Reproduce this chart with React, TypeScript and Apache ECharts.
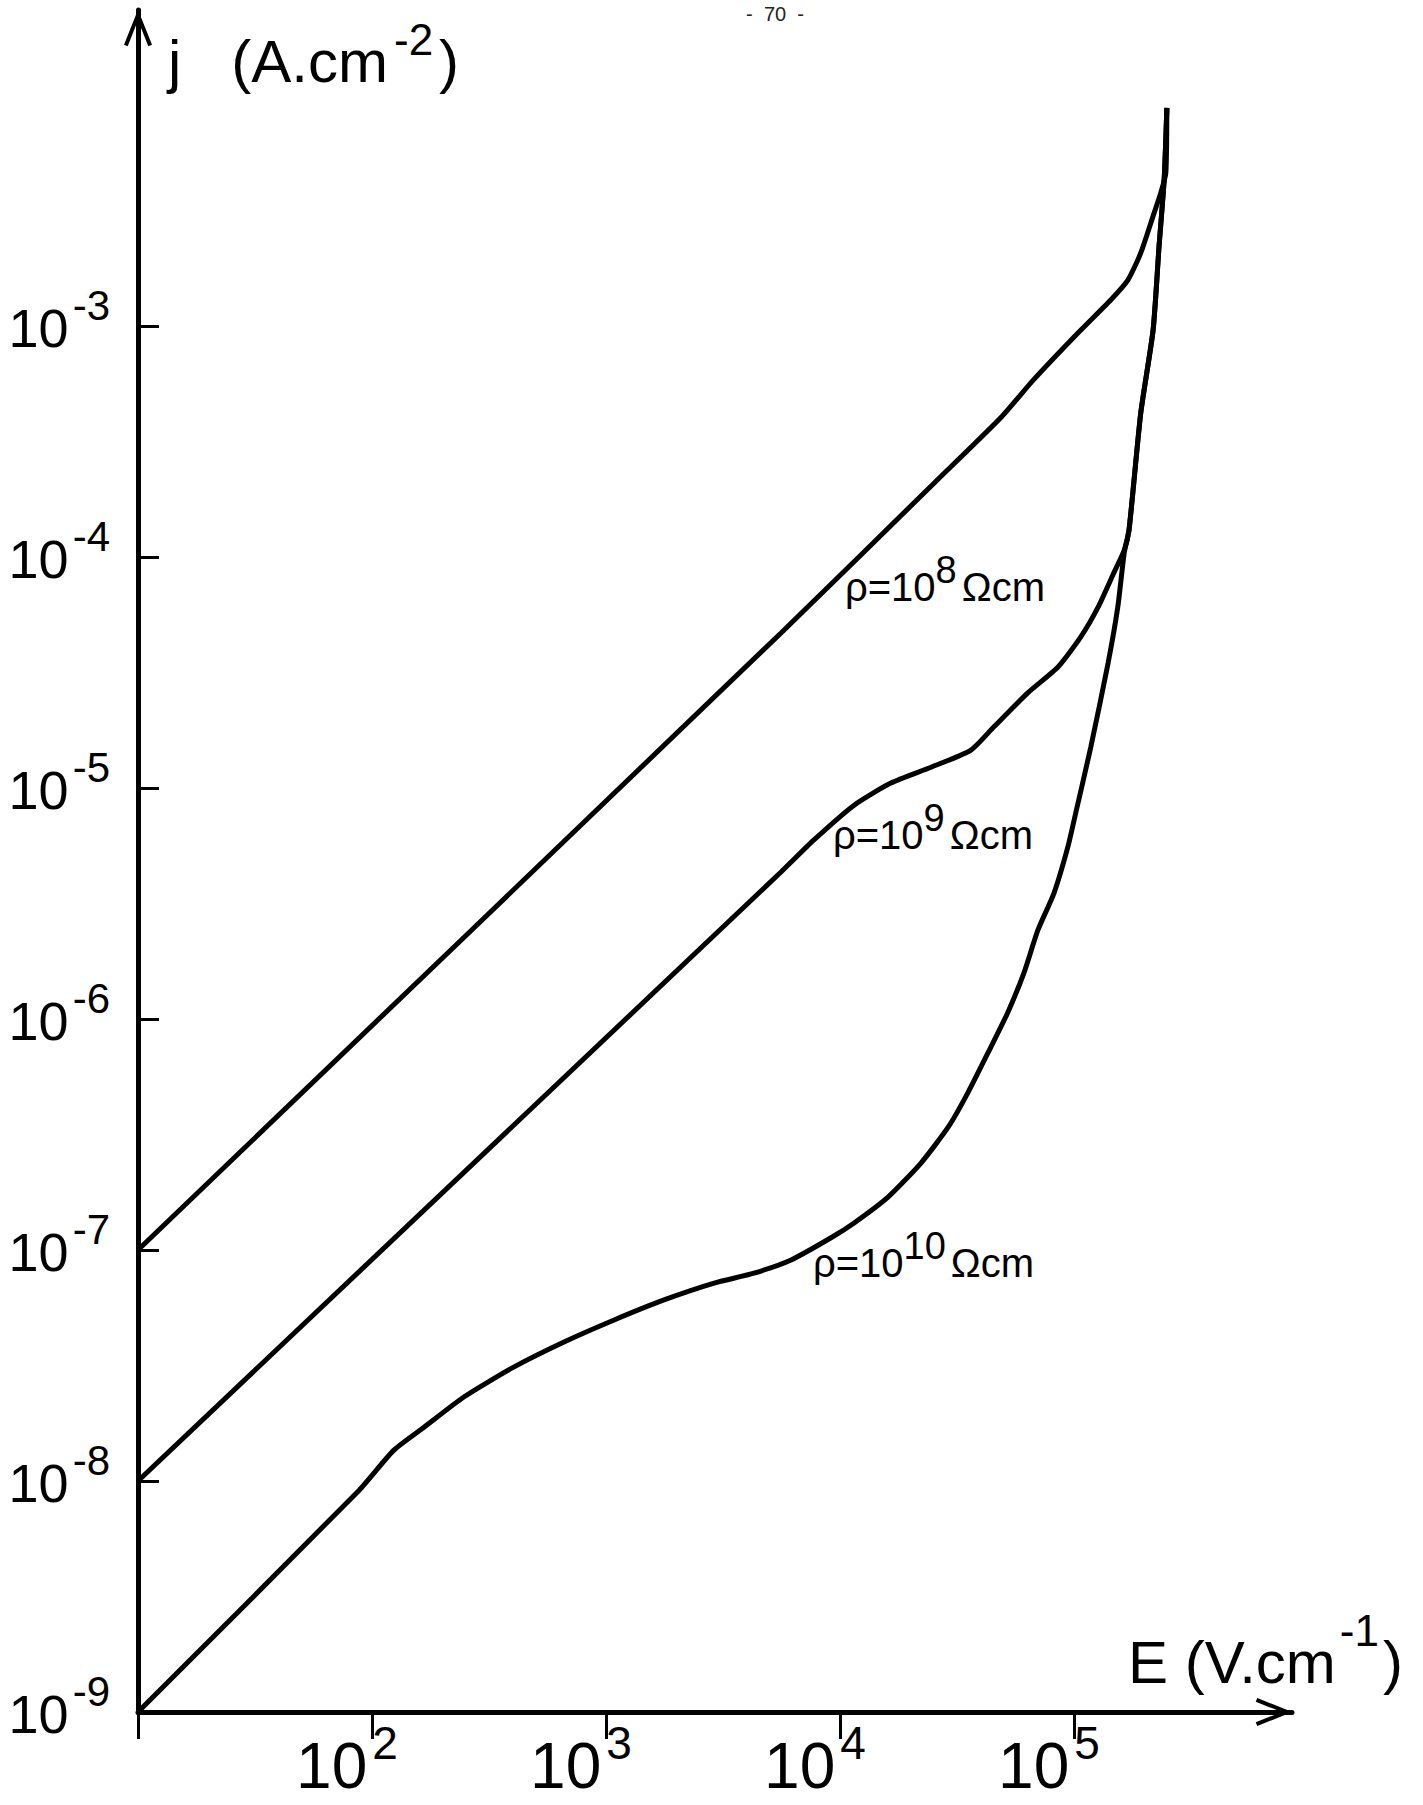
import React, { useEffect, useRef } from "react";
import * as echarts from "echarts";

// ---- Axis ticks / labels ----
const xTickValues = [10, 100, 1000, 10000, 100000];
const xLabelValues = [100, 1000, 10000, 100000];
const yTickValues = [1e-9, 1e-8, 1e-7, 1e-6, 1e-5, 1e-4, 1e-3];

// ---- Series values (E in V/cm, j in A/cm^2) ----
const rho8E = [10, 5600, 26000, 49000, 67000, 104000, 144000, 170000, 193000, 220000, 235000, 247000, 249500];
const rho8J = [1e-7, 4.69e-5, 2.15e-4, 4.04e-4, 5.83e-4, 9.33e-4, 1.3e-3, 1.58e-3, 2.07e-3, 3.08e-3, 3.77e-3, 4.59e-3, 8.79e-3];

const rho9E = [10, 5600, 7740, 11500, 16500, 24500, 36300, 45500, 63500, 85500, 107000, 127000, 148000, 164000, 172000];
const rho9J = [1e-8, 4.33e-6, 5.96e-6, 8.43e-6, 1.05e-5, 1.23e-5, 1.46e-5, 1.84e-5, 2.58e-5, 3.34e-5, 4.51e-5, 6.08e-5, 8.53e-5, 1.07e-4, 1.31e-4];

const rho10E = [10, 88, 124, 167, 247, 405, 662, 1084, 1770, 2900, 4290, 6180, 9160, 11500, 16000, 22200, 29000, 35200, 42900, 52000, 61100, 70200, 82200, 94200, 102000, 118000, 140000, 154000, 164000, 172000];
const rho10J = [1e-9, 9.1e-9, 1.36e-8, 1.71e-8, 2.31e-8, 3.12e-8, 4.0e-8, 4.98e-8, 6.08e-8, 7.19e-8, 7.94e-8, 9.06e-8, 1.13e-7, 1.31e-7, 1.69e-7, 2.38e-7, 3.4e-7, 4.79e-7, 7.13e-7, 1.06e-6, 1.58e-6, 2.43e-6, 3.51e-6, 5.56e-6, 7.87e-6, 1.5e-5, 3.48e-5, 6.08e-5, 1.04e-4, 1.31e-4];

// shared steep (breakdown) branch where the 10^9 and 10^10 curves merge
const breakdownE = [193000, 218000, 231000, 243000, 249500];
const breakdownJ = [4.2e-4, 9.62e-4, 2.2e-3, 4.29e-3, 8.79e-3];

const curveLabels = ["8", "9", "10"];

const FONT = "Liberation Sans";
const INK = "#000";

const pairs = (xs: number[], ys: number[]) => xs.map((x, i) => [x, ys[i]]);

const ARROW = "path://M14 0 L28 35 L24.3 36.5 L14 10.5 L3.7 36.5 L0 35 Z";

function buildOption() {
  const lineSeries = (name: string, data: number[][]) => ({
    type: "line",
    name,
    data,
    showSymbol: false,
    symbol: "none",
    smooth: 0.2,
    lineStyle: { color: INK, width: 5 },
    itemStyle: { color: INK },
    emphasis: { disabled: true },
    z: 3,
  });

  const supLabel = (x: number, y: number, exp: string) => ({
    type: "text",
    x,
    y,
    z: 20,
    style: {
      text: `{m|ρ=10}{s|${exp}}{m|Ωcm}`,
      verticalAlign: "top",
      align: "left",
      fill: INK,
      rich: {
        m: { fontSize: 40, lineHeight: 40, fontFamily: FONT, fill: INK, verticalAlign: "bottom" },
        s: { fontSize: 38, lineHeight: 38, fontFamily: FONT, fill: INK, verticalAlign: "bottom", padding: [0, 5, 18, 0] },
      },
    },
  });

  return {
    animation: false,
    backgroundColor: "#fff",
    textStyle: { fontFamily: FONT, color: INK },
    grid: { left: 138, top: 10, right: 131, bottom: 93, containLabel: false, outerBoundsMode: "none" },
    xAxis: {
      type: "log",
      logBase: 10,
      min: 10,
      max: Math.pow(10, 5.932),
      axisLine: {
        show: true,
        onZero: false,
        lineStyle: { color: INK, width: 5 },
        symbol: ["none", ARROW],
        symbolSize: [28, 36.5],
        symbolOffset: [0, -18],
      },
      axisTick: { show: true, inside: false, length: 27, lineStyle: { color: INK, width: 3 }, customValues: xTickValues },
      axisLabel: {
        show: true,
        customValues: xLabelValues,
        margin: 22,
        formatter: (v: number) => `{b|10}{s|${Math.round(Math.log10(v))}}`,
        rich: {
          b: { fontSize: 64, lineHeight: 64, fontFamily: FONT, color: INK, verticalAlign: "bottom" },
          s: { fontSize: 46, lineHeight: 46, fontFamily: FONT, color: INK, verticalAlign: "bottom", padding: [0, 50, 32, 5] },
        },
      },
      splitLine: { show: false },
      minorTick: { show: false },
    },
    yAxis: {
      type: "log",
      logBase: 10,
      min: 1e-9,
      max: Math.pow(10, -1.632),
      axisLine: {
        show: true,
        onZero: false,
        lineStyle: { color: INK, width: 5 },
        symbol: ["none", ARROW],
        symbolSize: [28, 36.5],
        symbolOffset: [0, -18],
      },
      axisTick: { show: true, inside: true, length: 21, lineStyle: { color: INK, width: 3 }, customValues: yTickValues },
      axisLabel: {
        show: true,
        customValues: yTickValues,
        margin: 28,
        padding: [4, 0, 0, 0],
        formatter: (v: number) => `{b|10}{s|${Math.round(Math.log10(v))}}`,
        rich: {
          b: { fontSize: 54, lineHeight: 54, fontFamily: FONT, color: INK, verticalAlign: "bottom" },
          s: { fontSize: 42, lineHeight: 42, fontFamily: FONT, color: INK, verticalAlign: "bottom", padding: [0, 0, 29, 4] },
        },
      },
      splitLine: { show: false },
      minorTick: { show: false },
    },
    series: [
      lineSeries("ρ=10^8 Ωcm", pairs(rho8E, rho8J)),
      lineSeries("ρ=10^9 Ωcm", pairs(rho9E.concat(breakdownE), rho9J.concat(breakdownJ))),
      lineSeries("ρ=10^10 Ωcm", pairs(rho10E.concat(breakdownE), rho10J.concat(breakdownJ))),
    ],
    graphic: [
      {
        type: "text",
        x: 775,
        y: 14,
        z: 20,
        style: { text: "-  70  -", fontSize: 20, fontFamily: FONT, fill: "#222", align: "center", verticalAlign: "middle" },
      },
      {
        type: "text",
        x: 168,
        y: 31,
        z: 20,
        style: {
          text: "{t|j   (A.cm}{s|-2}{t|)}",
          verticalAlign: "top",
          align: "left",
          fill: INK,
          rich: {
            t: { fontSize: 60, lineHeight: 60, fontFamily: FONT, fill: INK, verticalAlign: "bottom" },
            s: { fontSize: 44, lineHeight: 44, fontFamily: FONT, fill: INK, verticalAlign: "bottom", padding: [0, 6, 30, 6] },
          },
        },
      },
      {
        type: "text",
        x: 1128,
        y: 1632,
        z: 20,
        style: {
          text: "{t|E (V.cm}{s|-1}{t|)}",
          verticalAlign: "top",
          align: "left",
          fill: INK,
          rich: {
            t: { fontSize: 60, lineHeight: 60, fontFamily: FONT, fill: INK, verticalAlign: "bottom" },
            s: { fontSize: 44, lineHeight: 44, fontFamily: FONT, fill: INK, verticalAlign: "bottom", padding: [0, 4, 40, 4] },
          },
        },
      },
      supLabel(845, 567, curveLabels[0]),
      supLabel(833, 815, curveLabels[1]),
      supLabel(813, 1243, curveLabels[2]),
    ],
  };
}

export default function App() {
  const ref = useRef<HTMLDivElement>(null);
  useEffect(() => {
    if (!ref.current) return;
    const chart = echarts.init(ref.current, null, { renderer: "svg" });
    chart.setOption(buildOption() as any);
    return () => chart.dispose();
  }, []);
  return (
    <div
      ref={ref}
      style={{ position: "absolute", left: 0, top: 0, width: 1423, height: 1805, background: "#fff" }}
    />
  );
}
